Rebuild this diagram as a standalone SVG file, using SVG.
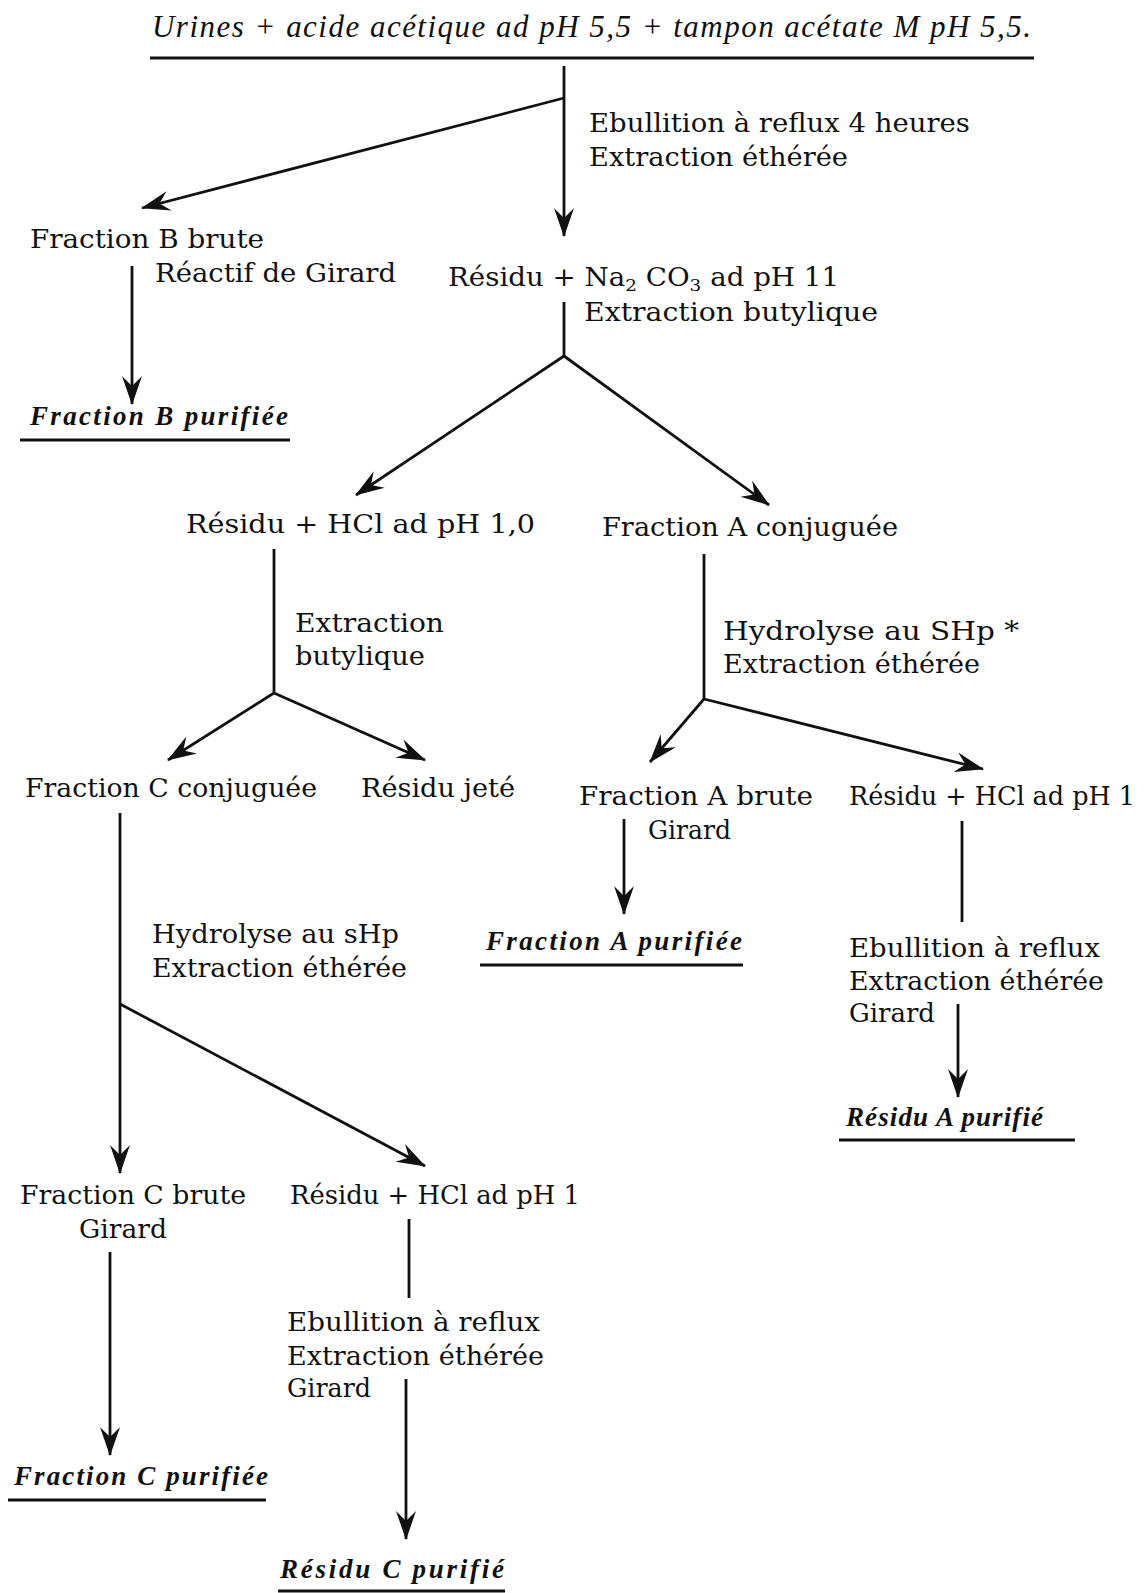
<svg xmlns="http://www.w3.org/2000/svg" width="1147" height="1593" viewBox="0 0 1147 1593">
<style>
.t{font-family:"DejaVu Serif","Liberation Serif",serif;font-size:25.5px;fill:#111}
.ti{font-family:"Liberation Serif","DejaVu Serif",serif;font-size:31px;font-style:italic;fill:#111}
.p{font-family:"Liberation Serif","DejaVu Serif",serif;font-size:27px;font-style:italic;font-weight:bold;fill:#111}
.c{stroke:#111;stroke-width:2.8;fill:none}
.u{stroke:#111;stroke-width:3}
</style>
<defs>
<marker id="ah" viewBox="-30 -12 32 24" refX="0" refY="0" markerWidth="32" markerHeight="24" markerUnits="userSpaceOnUse" orient="auto">
<path d="M1,0 L-28,-10 L-18,0 L-28,10 Z" fill="#111"/>
</marker>
</defs>
<rect width="1147" height="1593" fill="#fff"/>
<g id="connectors">
<line class="c" x1="564" y1="66" x2="564" y2="236" marker-end="url(#ah)"/>
<line class="c" x1="564" y1="98" x2="142" y2="208" marker-end="url(#ah)"/>
<line class="c" x1="132" y1="266" x2="132" y2="404" marker-end="url(#ah)"/>
<line class="c" x1="564" y1="302" x2="564" y2="356"/>
<line class="c" x1="564" y1="356" x2="356" y2="495" marker-end="url(#ah)"/>
<line class="c" x1="564" y1="356" x2="769" y2="505" marker-end="url(#ah)"/>
<line class="c" x1="274" y1="549" x2="274" y2="693"/>
<line class="c" x1="274" y1="693" x2="168" y2="760" marker-end="url(#ah)"/>
<line class="c" x1="274" y1="693" x2="425" y2="760" marker-end="url(#ah)"/>
<line class="c" x1="704" y1="554" x2="704" y2="699"/>
<line class="c" x1="704" y1="699" x2="650" y2="762" marker-end="url(#ah)"/>
<line class="c" x1="704" y1="699" x2="983" y2="769" marker-end="url(#ah)"/>
<line class="c" x1="624" y1="819" x2="624" y2="914" marker-end="url(#ah)"/>
<line class="c" x1="962" y1="821" x2="962" y2="922"/>
<line class="c" x1="958" y1="1004" x2="958" y2="1097" marker-end="url(#ah)"/>
<line class="c" x1="120" y1="813" x2="120" y2="1173" marker-end="url(#ah)"/>
<line class="c" x1="120" y1="1004" x2="425" y2="1166" marker-end="url(#ah)"/>
<line class="c" x1="110" y1="1252" x2="110" y2="1455" marker-end="url(#ah)"/>
<line class="c" x1="409" y1="1219" x2="409" y2="1298"/>
<line class="c" x1="406" y1="1379" x2="406" y2="1539" marker-end="url(#ah)"/>
</g>
<g id="n-start">
<text class="ti" x="152" y="37" textLength="879" lengthAdjust="spacing">Urines + acide acétique ad pH 5,5 + tampon acétate M pH 5,5.</text>
<line class="u" x1="150" y1="58" x2="1034" y2="58"/>
</g>
<g id="l-ebull1">
<text class="t" x="589" y="132" textLength="381" lengthAdjust="spacingAndGlyphs">Ebullition à reflux 4 heures</text>
<text class="t" x="589" y="166" textLength="259" lengthAdjust="spacingAndGlyphs">Extraction éthérée</text>
</g>
<g id="n-fracB">
<text class="t" x="30" y="248" textLength="234" lengthAdjust="spacingAndGlyphs">Fraction B brute</text>
<text class="t" x="155" y="282" textLength="241" lengthAdjust="spacingAndGlyphs">Réactif de Girard</text>
</g>
<g id="n-fracBpur">
<text class="p" x="30" y="425" textLength="258" lengthAdjust="spacing">Fraction B purifiée</text>
<line class="u" x1="20" y1="440" x2="290" y2="440"/>
</g>
<g id="n-residu1">
<text class="t" x="448" y="286" textLength="391" lengthAdjust="spacingAndGlyphs">Résidu + Na<tspan font-size="17" dy="5">2</tspan><tspan dy="-5"> CO</tspan><tspan font-size="17" dy="5">3</tspan><tspan dy="-5"> ad pH 11</tspan></text>
<text class="t" x="584" y="321" textLength="294" lengthAdjust="spacingAndGlyphs">Extraction butylique</text>
</g>
<g id="n-residu2">
<text class="t" x="186" y="533" textLength="349" lengthAdjust="spacingAndGlyphs">Résidu + HCl ad pH 1,0</text>
<text class="t" x="295" y="632" textLength="149" lengthAdjust="spacingAndGlyphs">Extraction</text>
<text class="t" x="295" y="665" textLength="130" lengthAdjust="spacingAndGlyphs">butylique</text>
</g>
<g id="n-fracAconj">
<text class="t" x="602" y="536" textLength="296" lengthAdjust="spacingAndGlyphs">Fraction A conjuguée</text>
<text class="t" x="723" y="640" textLength="296" lengthAdjust="spacingAndGlyphs">Hydrolyse au SHp *</text>
<text class="t" x="723" y="673" textLength="257" lengthAdjust="spacingAndGlyphs">Extraction éthérée</text>
</g>
<g id="n-fracCconj">
<text class="t" x="25" y="797" textLength="292" lengthAdjust="spacingAndGlyphs">Fraction C conjuguée</text>
<text class="t" x="152" y="943" textLength="247" lengthAdjust="spacingAndGlyphs">Hydrolyse au sHp</text>
<text class="t" x="152" y="977" textLength="255" lengthAdjust="spacingAndGlyphs">Extraction éthérée</text>
</g>
<g id="n-jete">
<text class="t" x="361" y="797" textLength="154" lengthAdjust="spacingAndGlyphs">Résidu jeté</text>
</g>
<g id="n-fracAbrute">
<text class="t" x="579" y="805" textLength="234" lengthAdjust="spacingAndGlyphs">Fraction A brute</text>
<text class="t" x="648" y="839" textLength="83" lengthAdjust="spacingAndGlyphs">Girard</text>
</g>
<g id="n-fracApur">
<text class="p" x="486" y="950" textLength="256" lengthAdjust="spacing">Fraction A purifiée</text>
<line class="u" x1="480" y1="965" x2="743" y2="965"/>
</g>
<g id="n-residuA">
<text class="t" x="849" y="805" textLength="286" lengthAdjust="spacingAndGlyphs">Résidu + HCl ad pH 1</text>
<text class="t" x="849" y="957" textLength="251" lengthAdjust="spacingAndGlyphs">Ebullition à reflux</text>
<text class="t" x="849" y="990" textLength="255" lengthAdjust="spacingAndGlyphs">Extraction éthérée</text>
<text class="t" x="849" y="1022" textLength="86" lengthAdjust="spacingAndGlyphs">Girard</text>
</g>
<g id="n-residuApur">
<text class="p" x="846" y="1126" textLength="197" lengthAdjust="spacing">Résidu A purifié</text>
<line class="u" x1="839" y1="1140" x2="1075" y2="1140"/>
</g>
<g id="n-fracCbrute">
<text class="t" x="20" y="1204" textLength="226" lengthAdjust="spacingAndGlyphs">Fraction C brute</text>
<text class="t" x="79" y="1238" textLength="88" lengthAdjust="spacingAndGlyphs">Girard</text>
</g>
<g id="n-fracCpur">
<text class="p" x="14" y="1485" textLength="254" lengthAdjust="spacing">Fraction C purifiée</text>
<line class="u" x1="8" y1="1500" x2="266" y2="1500"/>
</g>
<g id="n-residuC">
<text class="t" x="290" y="1204" textLength="290" lengthAdjust="spacingAndGlyphs">Résidu + HCl ad pH 1</text>
<text class="t" x="287" y="1331" textLength="253" lengthAdjust="spacingAndGlyphs">Ebullition à reflux</text>
<text class="t" x="287" y="1365" textLength="257" lengthAdjust="spacingAndGlyphs">Extraction éthérée</text>
<text class="t" x="287" y="1397" textLength="84" lengthAdjust="spacingAndGlyphs">Girard</text>
</g>
<g id="n-residuCpur">
<text class="p" x="280" y="1578" textLength="224" lengthAdjust="spacing">Résidu C purifié</text>
<line class="u" x1="278" y1="1591" x2="505" y2="1591"/>
</g>
</svg>
